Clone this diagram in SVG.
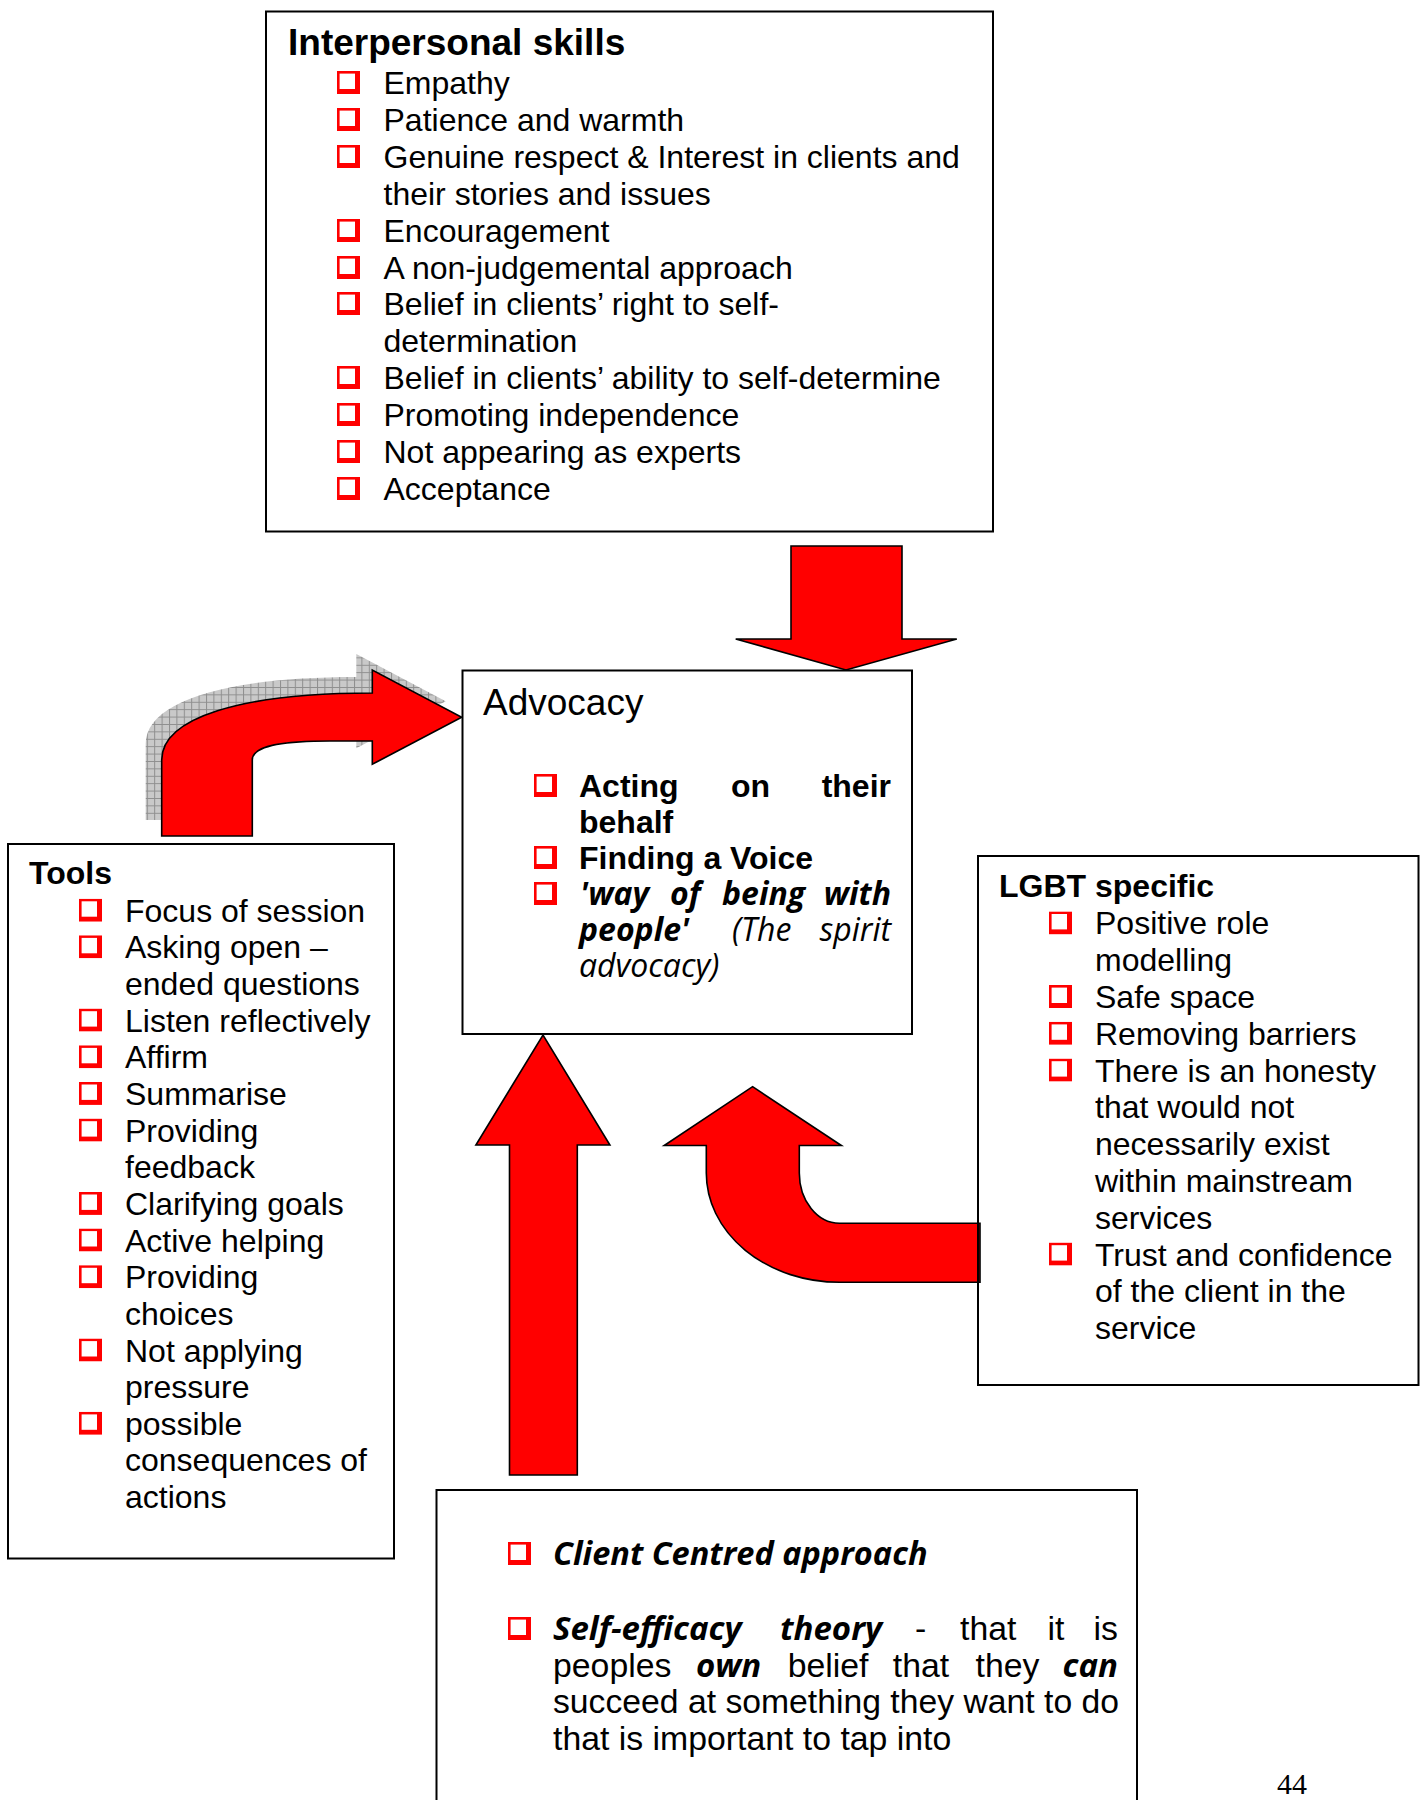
<svg xmlns="http://www.w3.org/2000/svg" xmlns:xlink="http://www.w3.org/1999/xlink" width="1423" height="1800" viewBox="0 0 1423 1800">
  <style>
    .box { fill: #ffffff; stroke: #000000; stroke-width: 2; }
    .arrow { fill: #ff0000; stroke: #000000; stroke-width: 1.6; stroke-linejoin: miter; }
    .t { font-family: "Liberation Sans", Arial, sans-serif; font-size: 32px; fill: #000000; }
    .tl { font-family: "Liberation Sans", Arial, sans-serif; font-size: 33.8px; fill: #000000; }
    .b { font-weight: bold; }
    .h1 { font-family: "Liberation Sans", Arial, sans-serif; font-size: 37px; font-weight: bold; fill: #000000; }
    .h2 { font-family: "Liberation Sans", Arial, sans-serif; font-size: 37px; fill: #000000; }
    .hum { font-family: "Open Sans", "DejaVu Sans", sans-serif; font-size: 32px; font-style: italic; fill: #000000; }
    .hb { font-weight: bold; }
    .pg { font-family: "Liberation Serif", "Times New Roman", serif; font-size: 30px; fill: #000000; }
  </style>
  <defs>
    <!-- red bullet box with a drop shadow on its lower right -->
    <symbol id="cb" viewBox="0 0 23 23" width="23" height="23">
      <rect x="0" y="0" width="23" height="23" fill="#ff0000"/>
      <rect x="2.6" y="2.6" width="15.4" height="15.4" fill="#ffffff"/>
    </symbol>
    <!-- grey grid fill for the shadow behind the bent arrow -->
    <pattern id="hatch" width="7.4" height="7.4" patternUnits="userSpaceOnUse">
      <rect width="7.4" height="7.4" fill="#c9c9c9"/>
      <path d="M0 0.5H7.4M0.5 0V7.4" stroke="#8e8e8e" stroke-width="1"/>
    </pattern>
    <path id="bentArrow" d="M161.7 836 L161.7 760 C161.7 718 240 693 372.3 693 L372.3 670 L461.7 717.3 L372.3 764.3 L372.3 741 L330 741 C285 741 252.3 745 252.3 760 L252.3 836 Z"/>
  </defs>

  <!-- block arrows pointing into the Advocacy box -->
  <g id="connectors">
    <use xlink:href="#bentArrow" href="#bentArrow" transform="translate(-16,-16)" fill="url(#hatch)" stroke="none"/>
    <use xlink:href="#bentArrow" href="#bentArrow" class="arrow"/>
    <polygon class="arrow" points="791,546 902,546 902,639 956.8,639 846,670 735.7,639 791,639"/>
    <polygon class="arrow" points="509.5,1475 509.5,1145 475.9,1145 543,1035 609.9,1145 577.3,1145 577.3,1475"/>
    <path class="arrow" d="M980 1223.3 L839.5 1223.3 A40.2 50.3 0 0 1 799.3 1173 L799.3 1145.5 L841.4 1145.5 L752.6 1086.7 L664.2 1145.5 L706.3 1145.5 L706.3 1173 A133.2 109.3 0 0 0 839.5 1282.3 L980 1282.3 Z"/>
  </g>

  <!-- Interpersonal skills -->
  <g id="interpersonal">
    <rect class="box" x="266" y="11.5" width="727" height="520"/>
    <text class="h1" x="288" y="55">Interpersonal skills</text>
    <use href="#cb" xlink:href="#cb" x="337" y="71"/>
    <text class="t" x="383.5" y="94">Empathy</text>
    <use href="#cb" xlink:href="#cb" x="337" y="108"/>
    <text class="t" x="383.5" y="131">Patience and warmth</text>
    <use href="#cb" xlink:href="#cb" x="337" y="145"/>
    <text class="t" x="383.5" y="168">Genuine respect &amp; Interest in clients and</text>
    <text class="t" x="383.5" y="205">their stories and issues</text>
    <use href="#cb" xlink:href="#cb" x="337" y="219"/>
    <text class="t" x="383.5" y="242">Encouragement</text>
    <use href="#cb" xlink:href="#cb" x="337" y="256"/>
    <text class="t" x="383.5" y="279">A non-judgemental approach</text>
    <use href="#cb" xlink:href="#cb" x="337" y="292"/>
    <text class="t" x="383.5" y="315">Belief in clients’ right to self-</text>
    <text class="t" x="383.5" y="352">determination</text>
    <use href="#cb" xlink:href="#cb" x="337" y="366"/>
    <text class="t" x="383.5" y="389">Belief in clients’ ability to self-determine</text>
    <use href="#cb" xlink:href="#cb" x="337" y="403"/>
    <text class="t" x="383.5" y="426">Promoting independence</text>
    <use href="#cb" xlink:href="#cb" x="337" y="440"/>
    <text class="t" x="383.5" y="463">Not appearing as experts</text>
    <use href="#cb" xlink:href="#cb" x="337" y="477"/>
    <text class="t" x="383.5" y="500">Acceptance</text>
  </g>

  <!-- Advocacy -->
  <g id="advocacy">
    <rect class="box" x="462.5" y="670.5" width="449.5" height="363.5"/>
    <text class="h2" x="483" y="715">Advocacy</text>
    <use href="#cb" xlink:href="#cb" x="534" y="774"/>
    <text class="t b" x="579" y="797">Acting</text>
    <text class="t b" x="731" y="797">on</text>
    <text class="t b" x="891" y="797" text-anchor="end">their</text>
    <text class="t b" x="579" y="833">behalf</text>
    <use href="#cb" xlink:href="#cb" x="534" y="846"/>
    <text class="t b" x="579" y="869">Finding a Voice</text>
    <use href="#cb" xlink:href="#cb" x="534" y="882"/>
    <text class="hum hb" x="580" y="905">'way</text>
    <text class="hum hb" x="670" y="905">of</text>
    <text class="hum hb" x="722" y="905">being</text>
    <text class="hum hb" x="891" y="905" text-anchor="end">with</text>
    <text class="hum hb" x="579" y="941">people'</text>
    <text class="hum" x="732" y="941">(The</text>
    <text class="hum" x="891" y="941" text-anchor="end">spirit</text>
    <text class="hum" x="579" y="977">advocacy)</text>
  </g>

  <!-- Tools -->
  <g id="tools">
    <rect class="box" x="8" y="844" width="386" height="714.5"/>
    <text class="t b" x="29" y="883.6">Tools</text>
    <use href="#cb" xlink:href="#cb" x="79" y="898.7"/>
    <text class="t" x="125" y="921.7">Focus of session</text>
    <use href="#cb" xlink:href="#cb" x="79" y="935.3"/>
    <text class="t" x="125" y="958.3">Asking open –</text>
    <text class="t" x="125" y="995">ended questions</text>
    <use href="#cb" xlink:href="#cb" x="79" y="1008.6"/>
    <text class="t" x="125" y="1031.6">Listen reflectively</text>
    <use href="#cb" xlink:href="#cb" x="79" y="1045.3"/>
    <text class="t" x="125" y="1068.3">Affirm</text>
    <use href="#cb" xlink:href="#cb" x="79" y="1081.9"/>
    <text class="t" x="125" y="1104.9">Summarise</text>
    <use href="#cb" xlink:href="#cb" x="79" y="1118.6"/>
    <text class="t" x="125" y="1141.6">Providing</text>
    <text class="t" x="125" y="1178.2">feedback</text>
    <use href="#cb" xlink:href="#cb" x="79" y="1191.9"/>
    <text class="t" x="125" y="1214.9">Clarifying goals</text>
    <use href="#cb" xlink:href="#cb" x="79" y="1228.5"/>
    <text class="t" x="125" y="1251.5">Active helping</text>
    <use href="#cb" xlink:href="#cb" x="79" y="1265.2"/>
    <text class="t" x="125" y="1288.2">Providing</text>
    <text class="t" x="125" y="1324.8">choices</text>
    <use href="#cb" xlink:href="#cb" x="79" y="1338.5"/>
    <text class="t" x="125" y="1361.5">Not applying</text>
    <text class="t" x="125" y="1398.1">pressure</text>
    <use href="#cb" xlink:href="#cb" x="79" y="1411.8"/>
    <text class="t" x="125" y="1434.8">possible</text>
    <text class="t" x="125" y="1471.4">consequences of</text>
    <text class="t" x="125" y="1508.1">actions</text>
  </g>

  <!-- LGBT specific -->
  <g id="lgbt">
    <rect class="box" x="978" y="856" width="440.5" height="529" style="fill:none"/>
    <text class="t b" x="999" y="897.4">LGBT specific</text>
    <use href="#cb" xlink:href="#cb" x="1049" y="911.4"/>
    <text class="t" x="1095" y="934.4">Positive role</text>
    <text class="t" x="1095" y="971.2">modelling</text>
    <use href="#cb" xlink:href="#cb" x="1049" y="985"/>
    <text class="t" x="1095" y="1008">Safe space</text>
    <use href="#cb" xlink:href="#cb" x="1049" y="1021.8"/>
    <text class="t" x="1095" y="1044.8">Removing barriers</text>
    <use href="#cb" xlink:href="#cb" x="1049" y="1058.6"/>
    <text class="t" x="1095" y="1081.6">There is an honesty</text>
    <text class="t" x="1095" y="1118.4">that would not</text>
    <text class="t" x="1095" y="1155.2">necessarily exist</text>
    <text class="t" x="1095" y="1192">within mainstream</text>
    <text class="t" x="1095" y="1228.8">services</text>
    <use href="#cb" xlink:href="#cb" x="1049" y="1242.6"/>
    <text class="t" x="1095" y="1265.6">Trust and confidence</text>
    <text class="t" x="1095" y="1302.4">of the client in the</text>
    <text class="t" x="1095" y="1339.2">service</text>
  </g>

  <!-- Client centred approach / self-efficacy -->
  <g id="theory">
    <rect class="box" x="436.5" y="1490" width="700.5" height="330"/>
    <use href="#cb" xlink:href="#cb" x="508" y="1542"/>
    <text class="hum hb" x="553" y="1565" style="font-size:32.5px">Client Centred approach</text>
    <use href="#cb" xlink:href="#cb" x="508" y="1617"/>
    <text class="hum hb" x="553" y="1640" style="font-size:33px">Self-efficacy</text>
    <text class="hum hb" x="780" y="1640" style="font-size:33px">theory</text>
    <text class="tl" x="915" y="1640">-</text>
    <text class="tl" x="960" y="1640">that</text>
    <text class="tl" x="1047.5" y="1640">it</text>
    <text class="tl" x="1118" y="1640" text-anchor="end">is</text>
    <text class="tl" x="553" y="1676.7">peoples</text>
    <text class="hum hb" x="696" y="1676.7" style="font-size:33px">own</text>
    <text class="tl" x="787.7" y="1676.7">belief</text>
    <text class="tl" x="892.8" y="1676.7">that</text>
    <text class="tl" x="975.5" y="1676.7">they</text>
    <text class="hum hb" x="1118" y="1676.7" text-anchor="end" style="font-size:33px">can</text>
    <text class="tl" x="553" y="1713.4" textLength="566" lengthAdjust="spacingAndGlyphs">succeed at something they want to do</text>
    <text class="tl" x="553" y="1750">that is important to tap into</text>
  </g>

  <text class="pg" x="1277" y="1794">44</text>
</svg>
